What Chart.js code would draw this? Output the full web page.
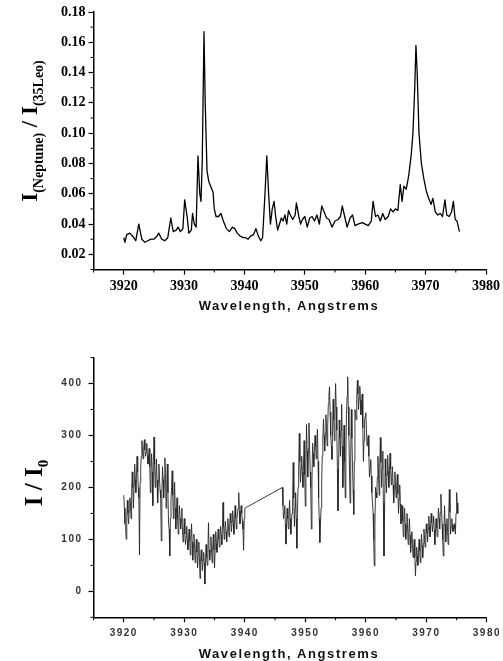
<!DOCTYPE html>
<html>
<head>
<meta charset="utf-8">
<script src="https://cdn.jsdelivr.net/npm/chart.js@4.4.1/dist/chart.umd.min.js"></script>
<style>
  html, body { margin: 0; padding: 0; background: #fff; }
  #page { position: relative; width: 503px; height: 661px; overflow: hidden; background: #fff; }
  .box { position: absolute; left: 0; width: 503px; }
  .ytitle {
    position: absolute; transform: translate(-50%, -50%) rotate(-90deg);
    white-space: nowrap; font-family: "Liberation Serif", serif; font-weight: bold; color: #000;
  }
  .ytitle span { position: relative; top: 6px; }
  .xtitle {
    position: absolute; transform: translate(-50%, -50%); white-space: nowrap;
    font-family: "Liberation Sans", Arial, sans-serif; font-weight: bold; font-size: 13px;
    letter-spacing: 1.6px; color: #111;
  }
</style>
</head>
<body>
<div id="page">
  <div class="box" style="top:0;height:310px;"><canvas id="topChart"></canvas></div>
  <div class="box" style="top:340px;height:321px;"><canvas id="bottomChart"></canvas></div>

  <div class="ytitle" style="left:30px;top:131px;font-size:23px;">I<span style="font-size:14px;">(Neptune)</span> / I<span style="font-size:14px;">(35Leo)</span></div>
  <div class="xtitle" style="left:289px;top:305px;">Wavelength, Angstrems</div>

  <div class="ytitle" style="left:34px;top:483px;font-size:25px;">I / I<span style="font-size:15px;">0</span></div>
  <div class="xtitle" style="left:289px;top:653px;">Wavelength, Angstrems</div>
</div>

<script>
// top panel: intensity ratio Neptune / 35 Leo
const topWave = [
  3920.0, 3920.2, 3920.5, 3921.0, 3921.5, 3922.0, 3922.5, 3923.0, 3923.5, 3924.0,
  3924.5, 3925.0, 3925.5, 3925.8, 3926.3, 3926.8, 3927.3, 3927.8, 3928.2, 3928.7,
  3929.0, 3929.4, 3929.8, 3930.1, 3930.5, 3930.8, 3931.2, 3931.4, 3931.7, 3932.0,
  3932.3, 3932.6, 3932.8, 3933.0, 3933.3, 3933.5, 3933.8, 3934.1, 3934.4, 3934.8,
  3935.0, 3935.3, 3935.7, 3936.1, 3936.5, 3937.0, 3937.5, 3938.0, 3938.4, 3938.8,
  3939.3, 3939.8, 3940.2, 3940.6, 3941.0, 3941.5, 3941.9, 3942.3, 3942.7, 3943.0,
  3943.4, 3943.7, 3944.0, 3944.3, 3944.6, 3944.9, 3945.2, 3945.5, 3945.8, 3946.1,
  3946.4, 3946.7, 3947.0, 3947.3, 3947.6, 3948.0, 3948.4, 3948.6, 3949.0, 3949.3,
  3949.6, 3950.0, 3950.4, 3950.8, 3951.2, 3951.6, 3952.0, 3952.4, 3952.8, 3953.2,
  3953.6, 3954.0, 3954.5, 3955.0, 3955.5, 3955.9, 3956.2, 3956.6, 3957.0, 3957.5,
  3957.9, 3958.3, 3958.8, 3959.5, 3960.0, 3960.5, 3961.0, 3961.3, 3961.7, 3962.1,
  3962.5, 3962.9, 3963.3, 3963.8, 3964.2, 3964.6, 3965.0, 3965.4, 3965.8, 3966.1,
  3966.4, 3966.8, 3967.2, 3967.6, 3967.9, 3968.2, 3968.4, 3968.6, 3968.9, 3969.3,
  3969.7, 3970.1, 3970.5, 3970.9, 3971.2, 3971.6, 3972.0, 3972.4, 3972.8, 3973.2,
  3973.5, 3973.9, 3974.3, 3974.6, 3974.9, 3975.2, 3975.6
];
const topRatio = [
  0.031, 0.028, 0.033, 0.034, 0.032, 0.029, 0.040, 0.030, 0.028, 0.029,
  0.030, 0.030, 0.032, 0.034, 0.030, 0.029, 0.031, 0.044, 0.035, 0.036,
  0.038, 0.035, 0.037, 0.056, 0.045, 0.034, 0.036, 0.047, 0.040, 0.038,
  0.085, 0.060, 0.055, 0.080, 0.167, 0.120, 0.075, 0.068, 0.065, 0.061,
  0.050, 0.045, 0.045, 0.047, 0.042, 0.037, 0.035, 0.038, 0.037, 0.034,
  0.032, 0.031, 0.031, 0.030, 0.032, 0.033, 0.037, 0.032, 0.029, 0.031,
  0.060, 0.085, 0.060, 0.040, 0.050, 0.055, 0.044, 0.036, 0.040, 0.044,
  0.042, 0.046, 0.040, 0.049, 0.046, 0.043, 0.046, 0.054, 0.045, 0.040,
  0.043, 0.045, 0.038, 0.044, 0.045, 0.042, 0.046, 0.040, 0.052, 0.048,
  0.044, 0.043, 0.038, 0.042, 0.043, 0.045, 0.052, 0.045, 0.038, 0.044,
  0.046, 0.039, 0.040, 0.041, 0.040, 0.039, 0.042, 0.055, 0.045, 0.046,
  0.042, 0.047, 0.043, 0.045, 0.050, 0.048, 0.050, 0.049, 0.066, 0.055,
  0.065, 0.063, 0.072, 0.085, 0.100, 0.130, 0.158, 0.140, 0.100, 0.080,
  0.070, 0.062, 0.057, 0.053, 0.057, 0.048, 0.046, 0.047, 0.045, 0.056,
  0.046, 0.045, 0.048, 0.055, 0.043, 0.042, 0.035
];

// bottom panel: I / I0. Spike values every 0.2 A, core values 0.1 A after each spike.
// No data between 3940 and 3946.2 (the line just bridges it).
const seg1Start = 3920.0;
const seg2Start = 3946.2;
const sampleStep = 0.2;
const seg1Spikes = [
  185, 130, 100, 175, 130, 180, 140, 230, 160, 245,
  190, 260, 200, 70, 240, 290, 255, 292, 260, 285,
  245, 275, 190, 265, 165, 297, 200, 255, 170, 245,
  195, 97, 240, 180, 257, 160, 245, 130, 68, 175,
  232, 140, 210, 120, 180, 110, 165, 120, 160, 95,
  140, 90, 125, 80, 120, 70, 130, 60, 110, 55,
  100, 45, 95, 25, 80, 40, 75, 14, 90, 50,
  132, 60, 105, 55, 110, 45, 115, 75, 120, 85,
  125, 90, 171, 100, 135, 95, 140, 105, 150, 115,
  155, 110, 165, 120, 150, 190, 130, 165, 135, 79,
  160
];
const seg1Core = [
  160, 125, 145, 150, 155, 170, 190, 200, 205, 215,
  225, 230, 180, 210, 260, 270, 275, 272, 268, 262,
  258, 240, 235, 230, 250, 245, 228, 215, 212, 218,
  180, 190, 215, 220, 215, 205, 190, 120, 140, 200,
  185, 170, 160, 150, 140, 135, 140, 135, 120, 115,
  110, 105, 100, 102, 98, 100, 95, 88, 82, 80,
  75, 72, 65, 60, 58, 60, 55, 52, 65, 75,
  80, 78, 80, 85, 80, 82, 92, 95, 100, 105,
  108, 120, 125, 118, 115, 118, 122, 128, 132, 135,
  132, 138, 142, 140, 160, 155, 148, 150, 120, 140
];
const seg2Spikes = [
  200, 140, 165, 91, 160, 120, 175, 110, 150, 248,
  125, 190, 83, 200, 304, 210, 260, 200, 290, 164,
  321, 220, 324, 230, 120, 285, 240, 300, 255, 312,
  180, 94, 160, 260, 331, 270, 340, 280, 360, 394,
  300, 254, 370, 290, 400, 310, 155, 330, 260, 360,
  200, 320, 180, 340, 413, 300, 170, 350, 240, 148,
  350, 330, 406, 350, 395, 340, 380, 250, 330, 344,
  280, 300, 220, 254, 190, 150, 49, 200, 180, 260,
  185, 296, 200, 270, 68, 255, 190, 262, 200, 266,
  205, 240, 170, 230, 180, 225, 150, 205, 130, 165,
  105, 160, 100, 150, 90, 140, 75, 115, 65, 100,
  30, 85, 50, 100, 55, 110, 65, 120, 85, 130,
  95, 145, 105, 150, 115, 145, 90, 140, 105, 160,
  120, 187, 130, 68, 165, 95, 140, 90, 196, 110,
  140, 115, 130, 110, 190, 150
];
const seg2Core = [
  165, 150, 130, 135, 140, 145, 140, 130, 170, 180,
  160, 140, 150, 230, 250, 235, 230, 245, 225, 245,
  270, 275, 280, 200, 210, 265, 270, 280, 285, 250,
  140, 130, 210, 295, 300, 305, 310, 320, 375, 345,
  280, 310, 330, 345, 355, 235, 240, 295, 310, 280,
  260, 250, 260, 375, 355, 235, 260, 295, 195, 250,
  340, 370, 380, 372, 368, 360, 315, 290, 337, 312,
  290, 260, 237, 222, 170, 100, 125, 190, 220, 222,
  240, 248, 235, 170, 160, 222, 226, 231, 233, 235,
  222, 205, 200, 205, 202, 188, 178, 168, 148, 135,
  132, 130, 125, 120, 115, 108, 95, 90, 82, 65,
  58, 68, 75, 78, 82, 88, 92, 102, 108, 112,
  120, 125, 128, 132, 130, 118, 115, 122, 132, 140,
  152, 158, 100, 115, 130, 118, 115, 145, 152, 125,
  127, 122, 120, 150, 170
];

function segmentPoints(start, spikes, core) {
  const pts = [];
  spikes.forEach((v, i) => {
    const x = start + i * sampleStep;
    pts.push({ x: +x.toFixed(1), y: v });
    if (i < core.length) pts.push({ x: +(x + sampleStep / 2).toFixed(2), y: core[i] });
  });
  return pts;
}

const topPoints = topWave.map((w, i) => ({ x: w, y: topRatio[i] }));
const bottomPoints = [
  ...segmentPoints(seg1Start, seg1Spikes, seg1Core),
  ...segmentPoints(seg2Start, seg2Spikes, seg2Core),
];

const isMajorX = (v) => Math.round(v) % 10 === 0;
const isMajorTopY = (v) => Math.round(v * 100) % 2 === 0;
const isMajorBotY = (v) => Math.round(v) % 100 === 0;

// short ticks between the labelled ones
const minorTicks = {
  id: "minorTicks",
  afterDraw(chart, args, opts) {
    const ctx = chart.ctx;
    ctx.save();
    ctx.strokeStyle = "#000";
    ctx.lineWidth = 1;
    const xs = chart.scales.x, ys = chart.scales.y;
    xs.ticks.forEach((t) => {
      if (isMajorX(t.value)) return;
      const p = xs.getPixelForValue(t.value);
      ctx.beginPath();
      ctx.moveTo(p, xs.top);
      ctx.lineTo(p, xs.top + 3);
      ctx.stroke();
    });
    ys.ticks.forEach((t) => {
      if (opts.majorY(t.value)) return;
      const p = ys.getPixelForValue(t.value);
      ctx.beginPath();
      ctx.moveTo(ys.right, p);
      ctx.lineTo(ys.right - 3, p);
      ctx.stroke();
    });
    ctx.restore();
  },
};

const spacedLabels = {
  id: "spacedLabels",
  beforeDraw(chart, args, opts) { chart.ctx.letterSpacing = opts.spacing || "0px"; },
  afterDraw(chart) { chart.ctx.letterSpacing = "0px"; },
};

function axisOpts(extra) {
  return Object.assign({
    border: { display: true, color: "#000", width: 1.5 },
  }, extra);
}

const topChart = new Chart(document.getElementById("topChart"), {
  type: "line",
  data: {
    datasets: [{
      data: topPoints,
      borderColor: "#000",
      borderWidth: 1.3,
      pointRadius: 0,
      tension: 0,
      borderJoinStyle: "round",
    }],
  },
  options: {
    responsive: true,
    maintainAspectRatio: false,
    animation: false,
    layout: { padding: { top: 12, right: 16, left: 0, bottom: 0 } },
    plugins: {
      legend: { display: false },
      tooltip: { enabled: false },
      minorTicks: { majorY: isMajorTopY },
    },
    scales: {
      x: axisOpts({
        type: "linear",
        min: 3915,
        max: 3980,
        afterFit: (s) => { s.height = 40.5; },
        grid: {
          drawOnChartArea: false, tickLength: 5, tickWidth: 1.2,
          tickColor: (c) => (c.tick && isMajorX(c.tick.value) ? "#000" : "rgba(0,0,0,0)"),
        },
        ticks: {
          stepSize: 5, autoSkip: false, maxRotation: 0, padding: 3,
          color: "#000",
          font: { family: "Liberation Serif", weight: "bold", size: 14 },
          callback: (v) => (isMajorX(v) ? String(Math.round(v)) : ""),
        },
      }),
      y: axisOpts({
        min: 0.01,
        max: 0.18,
        afterFit: (s) => { s.width = 93.5; },
        grid: {
          drawOnChartArea: false, tickLength: 5, tickWidth: 1.2,
          tickColor: (c) => (c.tick && isMajorTopY(c.tick.value) ? "#000" : "rgba(0,0,0,0)"),
        },
        ticks: {
          stepSize: 0.01, autoSkip: false, padding: 3,
          color: "#000",
          font: { family: "Liberation Serif", weight: "bold", size: 14 },
          callback: (v) => (isMajorTopY(v) ? v.toFixed(2) : ""),
        },
      }),
    },
  },
  plugins: [minorTicks],
});

const bottomChart = new Chart(document.getElementById("bottomChart"), {
  type: "line",
  data: {
    datasets: [{
      data: bottomPoints,
      borderColor: "#262626",
      borderWidth: 0.9,
      pointRadius: 0,
      tension: 0,
      borderJoinStyle: "round",
    }],
  },
  options: {
    responsive: true,
    maintainAspectRatio: false,
    animation: false,
    layout: { padding: { top: 17.6, right: 16, left: 0, bottom: 0 } },
    plugins: {
      legend: { display: false },
      tooltip: { enabled: false },
      minorTicks: { majorY: isMajorBotY },
      spacedLabels: { spacing: "1.5px" },
    },
    scales: {
      x: axisOpts({
        type: "linear",
        min: 3915,
        max: 3980,
        afterFit: (s) => { s.height = 43.7; },
        grid: {
          drawOnChartArea: false, tickLength: 5, tickWidth: 1.2,
          tickColor: (c) => (c.tick && isMajorX(c.tick.value) ? "#000" : "rgba(0,0,0,0)"),
        },
        ticks: {
          stepSize: 5, autoSkip: false, maxRotation: 0, padding: 5,
          color: "#333",
          font: { family: "Liberation Sans", weight: "bold", size: 10 },
          callback: (v) => (isMajorX(v) ? String(Math.round(v)) : ""),
        },
      }),
      y: axisOpts({
        min: -50,
        max: 450,
        afterFit: (s) => { s.width = 93.5; },
        grid: {
          drawOnChartArea: false, tickLength: 5, tickWidth: 1.2,
          tickColor: (c) => (c.tick && isMajorBotY(c.tick.value) ? "#000" : "rgba(0,0,0,0)"),
        },
        ticks: {
          stepSize: 50, autoSkip: false, padding: 6,
          color: "#333",
          font: { family: "Liberation Sans", weight: "bold", size: 10 },
          callback: (v) => (isMajorBotY(v) ? String(Math.round(v)) : ""),
        },
      }),
    },
  },
  plugins: [minorTicks, spacedLabels],
});
</script>
</body>
</html>
